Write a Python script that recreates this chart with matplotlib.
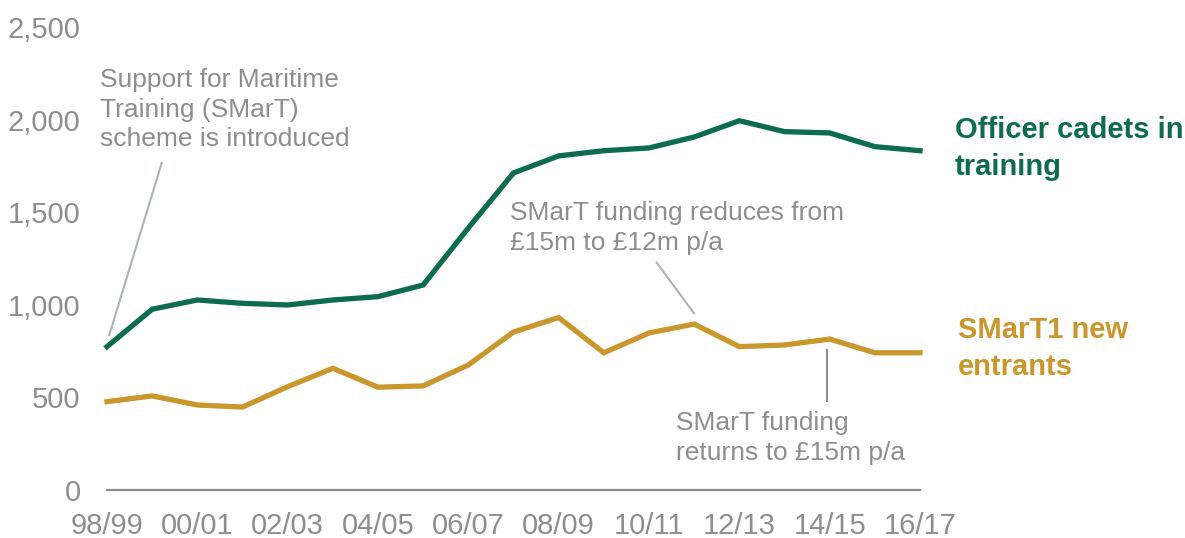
import matplotlib.pyplot as plt

plt.rcParams['font.family'] = ['Liberation Sans', 'DejaVu Sans']

# financial years 98/99 .. 16/17
years = ['98/99', '99/00', '00/01', '01/02', '02/03', '03/04', '04/05', '05/06',
         '06/07', '07/08', '08/09', '09/10', '10/11', '11/12', '12/13', '13/14',
         '14/15', '15/16', '16/17']

# officer cadets in training
cadets = [774, 976, 1026, 1008, 999, 1026, 1044, 1107, 1415, 1712,
          1804, 1832, 1847, 1906, 1994, 1935, 1928, 1854, 1832]

# SMarT1 new entrants
entrants = [477, 508, 459, 448, 558, 657, 555, 562, 675, 853,
            931, 741, 848, 896, 774, 783, 815, 741, 741]

yticks = [0, 500, 1000, 1500, 2000, 2500]
ytick_labels = ['0', '500', '1,000', '1,500', '2,000', '2,500']

green = '#0d6b50'
gold = '#c9972c'
grey = '#8e8e8e'

W, H = 1185, 538
fig = plt.figure(figsize=(W / 100, H / 100), dpi=100)
ax = fig.add_axes([107 / W, (H - 490) / H, (920 - 107) / W, (490 - 27) / H])

x = list(range(len(years)))
ax.plot(x, cadets, color=green, lw=3.8, solid_joinstyle='miter', clip_on=False)
ax.plot(x, entrants, color=gold, lw=3.8, solid_joinstyle='miter', clip_on=False)

ax.set_xlim(0, len(years) - 1)
ax.set_ylim(0, 2500)
ax.set_xticks(x[::2])
ax.set_xticklabels(years[::2])
ax.set_yticks(yticks)
ax.set_yticklabels(ytick_labels)
ax.tick_params(axis='both', length=0, labelsize=21, labelcolor=grey)
ax.tick_params(axis='x', pad=16)
ax.tick_params(axis='y', pad=19)

for s in ['top', 'right', 'left']:
    ax.spines[s].set_visible(False)
ax.spines['bottom'].set_color('#8a8a8a')
ax.spines['bottom'].set_linewidth(1.6)


# annotations, placed in pixel coordinates of the figure
def fig_xy(px, py):
    return px / W, (H - py) / H


note = dict(transform=fig.transFigure, fontsize=19, color=grey, va='top',
            ha='left', linespacing=1.3)

ax.text(*fig_xy(100, 68), 'Support for Maritime\nTraining (SMarT)\nscheme is introduced', **note)
fig.add_artist(plt.Line2D([161.7 / W, 109.3 / W], [(H - 163) / H, (H - 335) / H],
                          color='#a7b6b5', lw=1.5))

ax.text(*fig_xy(510, 201), 'SMarT funding reduces from\n\u00a315m to \u00a312m p/a', **note)
fig.add_artist(plt.Line2D([656.7 / W, 694 / W], [(H - 262.7) / H, (H - 313.3) / H],
                          color='#a7b6b5', lw=1.5))

ax.text(*fig_xy(676, 411), 'SMarT funding\nreturns to \u00a315m p/a', **note)
fig.add_artist(plt.Line2D([827 / W, 827 / W], [(H - 350) / H, (H - 401) / H],
                          color='#8e8e8e', lw=1.5))

# series labels
series = dict(transform=fig.transFigure, fontsize=21, fontweight='bold',
              va='top', ha='left', linespacing=1.42)
ax.text(*fig_xy(955, 116), 'Officer cadets in\ntraining', color=green, **series)
ax.text(*fig_xy(958, 316), 'SMarT1 new\nentrants', color=gold, **series)

fig.savefig('out.png', dpi=100)
